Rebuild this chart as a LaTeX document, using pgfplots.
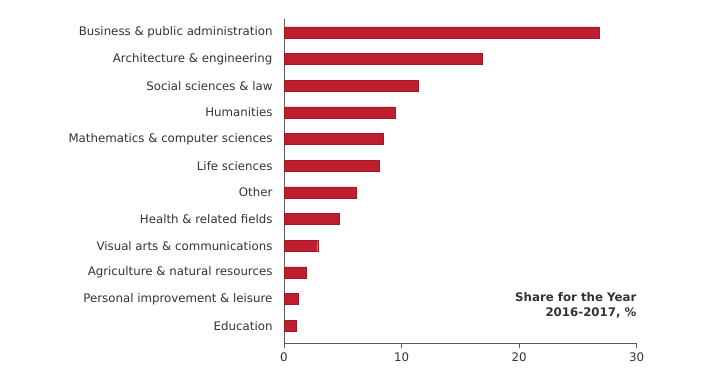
\documentclass[border=0pt]{standalone}
\usepackage{pgfplots}
\pgfplotsset{compat=1.18}
\usepackage{fontspec}
\setmainfont{DejaVu Sans}
\definecolor{barred}{HTML}{BE1E2D}
\definecolor{txt}{HTML}{333333}
\definecolor{axl}{HTML}{5A5A5A}
\begin{document}
\begin{tikzpicture}[x=1pt,y=1pt]
\begin{axis}[
  at={(284pt,36.7pt)}, anchor=south west,
  scale only axis, width=352.7pt, height=324pt,
  xbar, bar width=11pt,
  xmin=0, xmax=30, ymin=-0.66, ymax=11.49,
  axis lines*=left,
  axis line style={draw=axl, line width=0.9pt},
  xtick={0,10,20,30},
  ytick={0,...,11},
  yticklabels={Education, Personal improvement \& leisure, Agriculture \& natural resources, Visual arts \& communications, Health \& related fields, Other, Life sciences, Mathematics \& computer sciences, Humanities, Social sciences \& law, Architecture \& engineering, Business \& public administration},
  tick align=outside,
  major tick length=5pt,
  x tick style={draw=axl, line width=0.9pt},
  y tick style={draw=none},
  ticklabel style={font=\fontsize{11.8}{13}\selectfont, text=txt},
  /pgf/number format/assume math mode=true,
  yticklabel style={xshift=-3pt},
  xticklabel style={yshift=-1pt},
]
\addplot[fill=barred, draw=barred!85!black, line width=0.4pt] coordinates {
(1.02,0) (1.25,1) (1.93,2) (2.87,3) (4.7,4) (6.13,5) (8.06,6) (8.43,7) (9.45,8) (11.4,9) (16.9,10) (26.8,11)
};
\end{axis}
\node[anchor=base east, text=txt, inner sep=0pt, font=\fontsize{11.8}{13}\selectfont\bfseries] at (636.7pt,78.3pt) {Share for the Year};
\node[anchor=base east, text=txt, inner sep=0pt, font=\fontsize{11.8}{13}\selectfont\bfseries] at (636.7pt,63.3pt) {2016-2017, \%};
\pgfresetboundingbox
\path (0,0) rectangle (720pt,380pt);
\end{tikzpicture}
\end{document}
